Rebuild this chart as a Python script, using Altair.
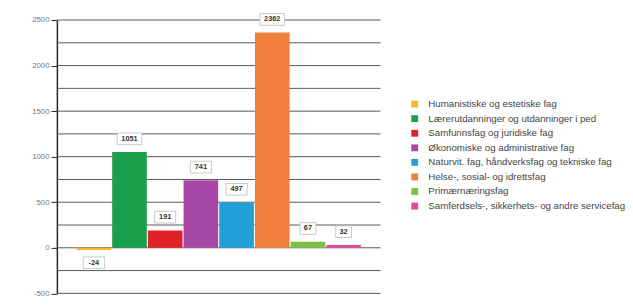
import altair as alt
import pandas as pd

categories = [
    "Humanistiske og estetiske fag",
    "Lærerutdanninger og utdanninger i ped",
    "Samfunnsfag og juridiske fag",
    "Økonomiske og administrative fag",
    "Naturvit. fag, håndverksfag og tekniske fag",
    "Helse-, sosial- og idrettsfag",
    "Primærnæringsfag",
    "Samferdsels-, sikkerhets- og andre servicefag",
]
values = [-24, 1051, 191, 741, 497, 2362, 67, 32]
colors = ["#F6B72E", "#1A9F4A", "#E02227", "#A848A6", "#21A0DA", "#EF7F3A", "#7CC043", "#E1489B"]
grid_values = list(range(-500, 2501, 250))
label_values = list(range(-500, 2501, 500))

W, H = 331, 279.5

df = pd.DataFrame({"cat": categories, "v": values})
df["label"] = [str(v) for v in values]
df["w"] = [str(len(s)) for s in df["label"]]
grid_df = pd.DataFrame({"g": grid_values})

box_paths = {
    "2": "M-1.35,-1H1.35V1H-1.35Z",
    "3": "M-1.8,-1H1.8V1H-1.8Z",
    "4": "M-2.1,-1H2.1V1H-2.1Z",
}

x_enc = alt.X("cat:N", sort=categories, axis=None,
              scale=alt.Scale(paddingInner=0.03, paddingOuter=0.55))
y_scale = alt.Scale(domain=[-500, 2500], nice=False, zero=False)
y_axis = alt.Axis(
    values=label_values, title=None, grid=False,
    domainColor="#222", domainWidth=1.5, tickSize=6, tickColor="#222",
    labelExpr="'' + datum.value",
    labelFont="Liberation Sans", labelFontSize=8, labelColor="#777", labelPadding=2)

grid = alt.Chart(grid_df).mark_rule(color="#555", strokeWidth=1).encode(
    y=alt.Y("g:Q", scale=y_scale, axis=y_axis),
    x=alt.value(0), x2=alt.value(W),
)

y_enc = alt.Y("v:Q", scale=y_scale, axis=y_axis)

bars = alt.Chart(df).mark_bar().encode(
    x=x_enc,
    y=y_enc,
    color=alt.Color("cat:N", sort=categories,
                    scale=alt.Scale(domain=categories, range=colors),
                    legend=alt.Legend(title=None, orient="none", legendX=361, legendY=81,
                                      symbolType="square", symbolSize=49, symbolStrokeWidth=0,
                                      labelFont="Liberation Sans", labelFontSize=9.9, labelColor="#444",
                                      labelOffset=9, rowPadding=3.9, padding=0, labelLimit=260)),
)

def box_layer(filt, dy):
    base = alt.Chart(df).transform_filter(filt)
    box = base.mark_point(filled=True, fill="white", stroke="#bbb", strokeWidth=0.8,
                          opacity=1, size=144, yOffset=dy).encode(
        x=x_enc, y=y_enc,
        shape=alt.Shape("w:N", scale=alt.Scale(domain=list(box_paths.keys()),
                                              range=list(box_paths.values())), legend=None),
    )
    txt = base.mark_text(font="Liberation Sans", fontSize=7.5, fontWeight="bold",
                         color="#333", yOffset=dy, baseline="middle").encode(
        x=x_enc, y=y_enc, text="label:N")
    return box + txt

chart = alt.layer(
    grid,
    bars,
    box_layer("datum.v >= 0", -13.5),
    box_layer("datum.v < 0", 13),
).properties(
    width=W, height=H,
    padding={"left": 24, "top": 0, "right": 0, "bottom": 0},
).configure_view(stroke="transparent", strokeWidth=0)

chart.save("out.html", embed_options={"renderer": "svg", "actions": False})
